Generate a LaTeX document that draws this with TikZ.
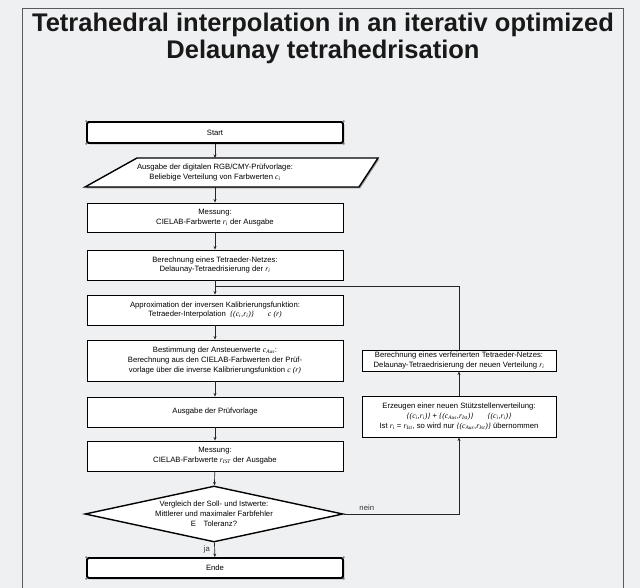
\documentclass[tikz,border=0pt]{standalone}
\usepackage{fontspec}
\setmainfont{Liberation Sans}
\newfontfamily\serfont{Liberation Serif}
\newcommand{\mv}[2]{{\serfont\itshape #1\textsubscript{#2}}}
\newcommand{\mi}[1]{{\serfont\itshape #1}}
\usetikzlibrary{arrows.meta,shadows,shapes.geometric}
\definecolor{bgc}{HTML}{EFF0F2}
\definecolor{framec}{HTML}{5A5A5E}
\begin{document}
\begin{tikzpicture}[x=1pt,y=-1pt,
  txt/.style={font=\fontsize{7.7}{9.8}\selectfont, align=center},
  box/.style={txt, draw=black, line width=0.9pt, fill=white, minimum width=256pt, inner sep=1pt,
    drop shadow={shadow xshift=1.3pt, shadow yshift=-1.3pt, fill=black, opacity=0.35}},
  rbox/.style={box, minimum width=194pt},
  terminal/.style={box, line width=1.8pt, rounded corners=1.5pt, minimum height=20pt},
  decision/.style={txt, draw=black, line width=1.4pt, fill=white, shape=diamond, aspect=4.7,
    minimum width=258pt, minimum height=56pt, inner sep=0pt},
  conn/.style={draw=black!85, line width=0.7pt},
  arr/.style={conn, -{Stealth[length=3.5pt,width=3pt]}},
  lbl/.style={font=\fontsize{7.7}{9}\selectfont, text=black!80},
  title/.style={font=\bfseries\fontsize{25.5}{30}\selectfont, text=black!90}
]
\useasboundingbox (0,0) rectangle (640,588);
\fill[bgc] (0,0) rectangle (640,588);
\draw[framec, line width=1pt] (22.5,8.5) -- (623,8.5) -- (623,595) (22.5,8.5) -- (22.5,595);

\node[title] (t1) at (323,25) {Tetrahedral interpolation in an iterativ optimized};
\node[title] (t2) at (323,52) {Delaunay tetrahedrisation};

% main column
\node[terminal, minimum height=21pt] (start) at (215,132.5) {Start};

\filldraw[fill=white, draw=black, line width=1.4pt,
  drop shadow={shadow xshift=1.3pt, shadow yshift=-1.3pt, fill=black, opacity=0.35}]
  (85,187) -- (137,158) -- (378,158) -- (359,187) -- cycle;
\coordinate (ptop) at (215,158);
\coordinate (pbot) at (215,187);
\node[txt] (para) at (215,172.5) {Ausgabe der digitalen RGB/CMY-Prüfvorlage:\\ Beliebige Verteilung von Farbwerten \mv{c}{i}};

\node[box, minimum height=29pt] (mess1) at (215,217.5) {Messung:\\ CIELAB-Farbwerte \mv{r}{i} der Ausgabe};
\node[box, minimum height=30pt] (ber) at (215,265) {Berechnung eines Tetraeder-Netzes:\\ Delaunay-Tetraedrisierung der \mv{r}{i}};
\node[box, minimum height=30pt] (appr) at (215,310) {Approximation der inversen Kalibrierungsfunktion:\\ Tetraeder-Interpolation \ \mi{\{(}\mv{c}{i},\mv{r}{i}\mi{)\}}\hspace{14pt}\mi{c} \mi{(r)}};
\node[box, minimum height=41pt] (best) at (215,360.5) {Bestimmung der Ansteuerwerte \mv{c}{Aus}:\\ Berechnung aus den CIELAB-Farbwerten der Prüf-\\ vorlage über die inverse Kalibrierungsfunktion \mi{c} \mi{(r)}};
\node[box, minimum height=30pt] (ausg) at (215,412) {Ausgabe der Prüfvorlage};
\node[box, minimum height=30pt] (mess2) at (215,456) {Messung:\\ CIELAB-Farbwerte \mv{r}{IST} der Ausgabe};
\node[decision] (dec) at (214,514) {Vergleich der Soll- und Istwerte:\\ Mittlerer und maximaler Farbfehler\\ E\quad Toleranz?};
\node[terminal] (ende) at (215,568) {Ende};

% right column
\node[rbox, minimum height=21pt] (verf) at (459,360.5) {Berechnung eines verfeinerten Tetraeder-Netzes:\\ Delaunay-Tetraedrisierung der neuen Verteilung \mv{r}{i}};
\node[rbox, minimum height=41pt] (erz) at (459,416.5) {Erzeugen einer neuen Stützstellenverteilung:\\ \mi{\{(}\mv{c}{i},\mv{r}{i}\mi{)\}} + \mi{\{(}\mv{c}{Aus},\mv{r}{Ist}\mi{)\}}\hspace{14pt}\mi{\{(}\mv{c}{i},\mv{r}{i}\mi{)\}}\\ Ist \mv{r}{i} = \mv{r}{Ist}, so wird nur \mi{\{(}\mv{c}{Aus},\mv{r}{Ist}\mi{)\}} übernommen};

% corner dots of terminals
\foreach \n in {start,ende}
  \foreach \a in {north west,north east,south west,south east}
    \fill[black!70] (\n.\a) circle (0.9pt);

% connectors
\draw[arr] (start) -- (ptop);
\draw[arr] (pbot) -- (mess1);
\draw[arr] (mess1) -- (ber);
\draw[arr] (ber) -- (appr);
\draw[arr] (appr) -- (best);
\draw[arr] (best) -- (ausg);
\draw[arr] (ausg) -- (mess2);
\draw[arr] (mess2) -- (dec);
\draw[arr] (dec) -- node[lbl, pos=0.45, left=1pt] {ja} (ende);
\coordinate (nc) at (459,514);
\draw[arr] (dec.east) -- node[lbl, pos=0.2, above=0pt] {nein} (nc) -- (erz.south);
\draw[arr] (erz) -- (verf);
\coordinate (fb1) at (459,286);
\coordinate (fb2) at (215,286);
\draw[conn] (verf.north) -- (fb1) -- (fb2);
\end{tikzpicture}
\end{document}
